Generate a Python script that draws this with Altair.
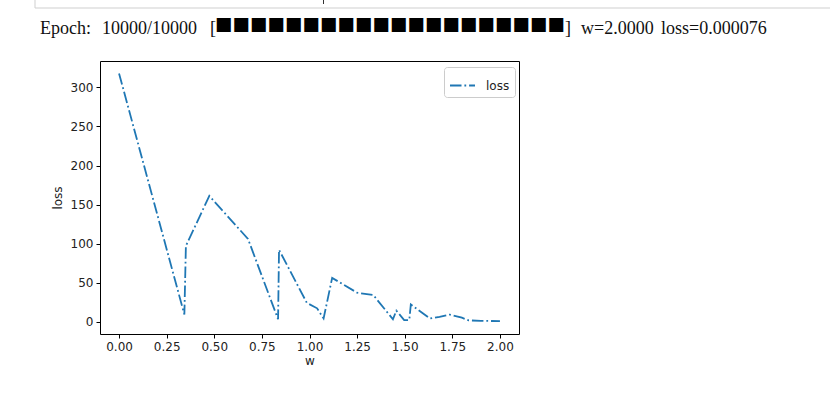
import altair as alt
import pandas as pd

# ---- data ----
w_values = [0.0, 0.343, 0.351, 0.474, 0.677, 0.835, 0.840, 0.986, 1.040, 1.074,
            1.119, 1.250, 1.335, 1.438, 1.456, 1.497, 1.524, 1.532, 1.632, 1.683,
            1.736, 1.800, 1.836, 1.900, 2.000]
loss_values = [318, 9, 97, 161, 106, 3, 92, 24, 17, 4,
               56, 37, 34, 3, 14, 2, 2, 22, 4, 6,
               9, 5, 1.5, 1.0, 0.5]
series_name = ["loss"] * len(w_values)

x_ticks = [0.0, 0.25, 0.5, 0.75, 1.0, 1.25, 1.5, 1.75, 2.0]
y_ticks = [0, 50, 100, 150, 200, 250, 300]

# header pieces and their left positions (relative to plot area)
header_words = ["Epoch:", "10000/10000", "[", "]", "w=2.0000", "loss=0.000076"]
header_x = [-60, 2, 110, 465, 481, 561]
header_bar = ["\u25a0" * 20]

df = pd.DataFrame({"w": w_values, "loss": loss_values, "series": series_name})
hdf = pd.DataFrame({"t": header_words, "px": header_x})

BLUE = "#1f77b4"
FONT = "DejaVu Sans"
SERIF = "Liberation Serif"

line = alt.Chart(df).mark_line(
    strokeWidth=1.8, strokeDash=[11.5, 2.9, 1.8, 2.9], clip=True
).encode(
    x=alt.X("w:Q", title="w",
            scale=alt.Scale(domain=[-0.1, 2.1], nice=False, zero=False),
            axis=alt.Axis(values=x_ticks, format=".2f", grid=False, domain=False,
                          tickColor="black", tickSize=4, tickWidth=1,
                          labelFont=FONT, labelFontSize=12, labelColor="#222",
                          labelPadding=3, titleFont=FONT, titleFontSize=12,
                          titleFontWeight="normal", titleColor="#222",
                          titlePadding=3)),
    y=alt.Y("loss:Q", title="loss",
            scale=alt.Scale(domain=[-15.9, 333.9], nice=False, zero=False),
            axis=alt.Axis(values=y_ticks, grid=False, domain=False,
                          tickColor="black", tickSize=4, tickWidth=1,
                          labelFont=FONT, labelFontSize=12, labelColor="#222",
                          labelPadding=3, titleFont=FONT, titleFontSize=12,
                          titleFontWeight="normal", titleColor="#222",
                          titlePadding=6)),
    color=alt.Color("series:N", scale=alt.Scale(range=[BLUE]),
                    legend=alt.Legend(title=None, orient="none", legendX=344, legendY=6,
                                      fillColor="rgba(255,255,255,0.8)",
                                      strokeColor="#cccccc", cornerRadius=3,
                                      padding=5, symbolType="stroke", symbolSize=625,
                                      symbolStrokeWidth=1.8,
                                      symbolDash=[11.5, 2.9, 1.8, 2.9],
                                      labelFont=FONT, labelFontSize=12,
                                      labelColor="#222", labelOffset=10)),
)

cell_box = alt.Chart(pd.DataFrame({"k": [0]})).mark_rect(
    fill="#ffffff", stroke="#cfcfcf", strokeWidth=1
).encode(x=alt.value(-65), x2=alt.value(740), y=alt.value(-80), y2=alt.value(-53))

cursor = alt.Chart(pd.DataFrame({"k": [0]})).mark_rule(
    color="#333333", strokeWidth=1
).encode(x=alt.value(223.5), y=alt.value(-61), y2=alt.value(-57))

header_text = alt.Chart(hdf).mark_text(
    font=SERIF, fontSize=18, align="left", baseline="alphabetic", color="#111"
).encode(
    text="t:N",
    x=alt.X("px:Q", scale=None),
    y=alt.value(-27.5),
)

bar = alt.Chart(pd.DataFrame({"t": header_bar})).mark_text(
    font="Noto Sans CJK SC", fontSize=17.5, align="left", baseline="middle", color="#000"
).encode(text="t:N", x=alt.value(115), y=alt.value(-34))

chart = alt.layer(
    cell_box, cursor, line, header_text, bar
).properties(
    width=419, height=273,
    autosize=alt.AutoSizeParams(type="none"),
    padding={"left": 100, "top": 61, "right": 311, "bottom": 60},
    background="white",
).resolve_scale(
    x="independent"
).configure_view(
    stroke="black", strokeWidth=1
)

chart.save("out.html", embed_options={"renderer": "svg", "actions": False})
